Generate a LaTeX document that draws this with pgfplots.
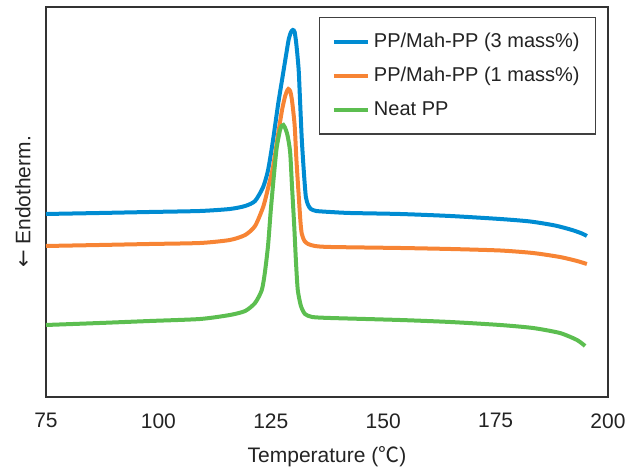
\documentclass[border=0pt]{standalone}
\usepackage{pgfplots}
\pgfplotsset{compat=1.18}
\usepackage{fontspec}
\setmainfont{Liberation Sans}
\newfontfamily\cjk{Noto Sans CJK KR}
\newfontfamily\sym{DejaVu Sans}
\definecolor{cblue}{RGB}{0,140,210}
\definecolor{corange}{RGB}{247,132,52}
\definecolor{cgreen}{RGB}{92,190,80}
\definecolor{txt}{RGB}{35,35,35}

% DSC curves: temperature (C) vs. heat flow (arbitrary units)
\pgfplotstableread{
T v
75.0 183
87.0 184
98.1 185
109.3 186
115.9 188
119.3 191
121.5 196
123.3 210
124.4 227
125.5 257
126.6 292
127.5 317
128.4 342
129.0 358
129.5 365
129.9 367
130.3 365
130.7 352
131.2 327
131.5 297
131.9 257
132.4 222
132.8 200
133.3 192
133.9 188
135.1 186
138.2 185
142.6 184
153.7 183
164.9 181
176.0 178
182.7 175.5
188.2 171.5
192.0 167
194.2 163.5
195.3 161
}\mahthree

\pgfplotstableread{
T v
75.0 151
87.0 152
98.1 153
109.3 154
115.9 157
119.3 162
121.5 171
123.3 190
124.4 209
125.5 230
126.6 262
127.5 287
128.2 301
128.7 307
128.9 308
129.3 306
129.7 297
130.3 272
130.7 237
131.2 202
131.6 175
131.9 163
132.5 156
133.3 153
134.8 151
138.2 150
153.7 149
164.9 148
176.0 146.5
183.3 144
189.3 140
193.1 136
195.3 133
}\mahone

\pgfplotstableread{
T v
75.0 72
87.0 74
98.1 76
109.3 78
115.9 82
119.3 86
121.5 94
123.0 107
123.7 125
124.4 152
125.0 187
125.7 222
126.3 249
127.0 266
127.4 271
127.8 272
128.1 270
128.7 262
129.3 245
129.7 212
130.2 172
130.6 135
131.0 107
131.7 91
132.6 83
134.2 80
138.2 79
153.7 77
164.9 75
176.0 72
183.3 69
189.3 64
193.1 57
194.9 51
}\neat

\begin{document}
\fontsize{10.5}{12.6}\selectfont
\begin{tikzpicture}
\begin{axis}[
    name=ax,
    scale only axis,
    width=281pt,
    height=195pt,
    xmin=75, xmax=200,
    ymin=0, ymax=390,
    xtick={75,100,...,200},
    ytick=\empty,
    major tick length=0pt,
    /pgf/number format/assume math mode=true,
    axis line style={draw=black!80, line width=1pt},
    tick label style={text=txt},
    xticklabel style={yshift=-4.5pt},
    label style={text=txt},
    xlabel={Temperature ({\cjk ℃})},
    xlabel style={at={(axis description cs:0.5,0)}, anchor=north, yshift=-21pt},
    ylabel={{\sym ←} Endotherm.},
    ylabel style={at={(axis description cs:-0.041,0.5)}, anchor=center},
    legend cell align=left,
    legend style={at={(0.979,0.974)}, anchor=north east, draw=black!75,
        line width=0.6pt, text=txt, inner xsep=6pt, inner ysep=5.5pt,
        row sep=4.5pt, font=\fontsize{10}{12}\selectfont},
    every axis plot/.append style={line width=2pt, smooth, tension=0.4},
]
\addplot[cblue] table[x=T, y=v] {\mahthree};
\addlegendentry{PP/Mah-PP (3 mass\%)}
\addplot[corange] table[x=T, y=v] {\mahone};
\addlegendentry{PP/Mah-PP (1 mass\%)}
\addplot[cgreen] table[x=T, y=v] {\neat};
\addlegendentry{Neat PP}
\end{axis}
\path ([shift={(-23pt,-35.5pt)}]ax.south west) rectangle ([shift={(15pt,3.5pt)}]ax.north east);
\end{tikzpicture}
\end{document}
